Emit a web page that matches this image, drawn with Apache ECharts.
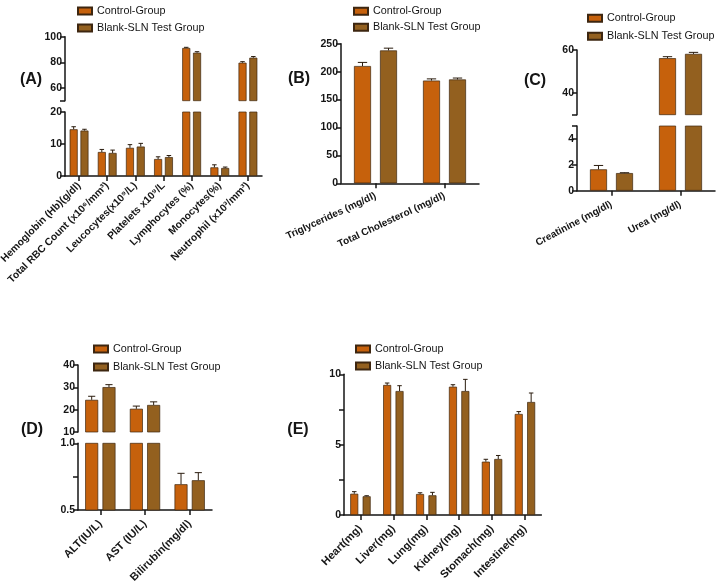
<!DOCTYPE html>
<html><head><meta charset="utf-8">
<script src="https://cdn.jsdelivr.net/npm/echarts@6/dist/echarts.min.js"></script>
<style>html,body{margin:0;padding:0;background:#fff}#c{width:717px;height:586px}</style>
</head><body><div id="c"></div>
<script>
// ---------------- DATA ----------------
const seriesNames = ['Control-Group', 'Blank-SLN Test Group'];

// (A) haematology
const catsA = ['Hemoglobin (Hb)(g/dl)', 'Total RBC Count (x10\u2076/mm\u00B3)', 'Leucocytes(x10\u2079/L)', 'Platelets x10\u2079/L', 'Lymphocytes (%)', 'Monocytes(%)', 'Neutrophil (x10\u00B3/mm\u00B3)'];
const controlA = [14.6, 7.5, 8.8, 5.3, 91.2, 2.7, 79.7];
const controlAErr = [0.8, 0.8, 1.0, 0.7, 0.5, 0.8, 0.8];
const testA = [14.2, 7.2, 9.2, 5.9, 87.5, 2.5, 83.6];
const testAErr = [0.4, 0.9, 1.0, 0.5, 0.8, 0.3, 0.9];
const aUpperTicks = [50, 60, 80, 100];
const aUpperLabels = [60, 80, 100];
const aLowerTicks = [0, 10, 20];
const aLowerLabels = [0, 10, 20];

// (B) lipids
const catsB = ['Triglycerides (mg/dl)', 'Total Cholesterol (mg/dl)'];
const controlB = [210, 184];
const controlBErr = [6.5, 3];
const testB = [238, 186];
const testBErr = [4, 2.5];
const bTicks = [0, 50, 100, 150, 200, 250];

// (C) kidney
const catsC = ['Creatinine (mg/dl)', 'Urea (mg/dl)'];
const controlC = [1.65, 56.2];
const controlCErr = [0.3, 0.7];
const testC = [1.36, 58.2];
const testCErr = [0.03, 0.7];
const cUpperTicks = [30, 40, 60];
const cUpperLabels = [40, 60];
const cLowerTicks = [0, 2, 4, 5];
const cLowerLabels = [0, 2, 4];

// (D) liver
const catsD = ['ALT(IU/L)', 'AST (IU/L)', 'Bilirubin(mg/dl)'];
const controlD = [24.4, 20.4, 0.693];
const controlDErr = [1.6, 1.2, 0.082];
const testD = [30.1, 22.1, 0.723];
const testDErr = [1.1, 1.4, 0.057];
const dUpperTicks = [10, 20, 30, 40];
const dUpperLabels = [10, 20, 30, 40];
const dLowerTicks = [0.5, 0.75, 1.0];
const dLowerLabels = [0.5, 1.0];

// (E) organ weights
const catsE = ['Heart(mg)', 'Liver(mg)', 'Lung(mg)', 'Kidney(mg)', 'Stomach(mg)', 'Intestine(mg)'];
const controlE = [1.51, 9.24, 1.49, 9.12, 3.79, 7.18];
const controlEErr = [0.15, 0.14, 0.09, 0.14, 0.17, 0.17];
const testE = [1.33, 8.81, 1.40, 8.81, 3.98, 8.03];
const testEErr = [0.04, 0.38, 0.21, 0.83, 0.25, 0.64];
const eTicks = [0, 2.5, 5, 7.5, 10];
const eLabels = [0, 5, 10];

// ---------------- LAYOUT / STYLE ----------------
const FONT = 'Liberation Sans, Arial, sans-serif';
const INK = '#151515';
const colors = ['#C6610C', '#93601F'];
const edge = '#3d2610';

const panels = [
  { tag: '(A)', tagX: 31, tagY: 80, cats: catsA, vals: [controlA, testA], errs: [controlAErr, testAErr],
    left: 65, width: 197, barW: 8, gap: 0.35, rotate: 45, xFont: 10.3, xMargin: 8,
    legend: { left: 77, top: 5.5, gap: 6 },
    segs: [ { top: 36.7, height: 64, min: 50, max: 100, ticks: aUpperTicks, labels: aUpperLabels },
            { top: 112, height: 64, min: 0, max: 20, ticks: aLowerTicks, labels: aLowerLabels } ] },
  { tag: '(B)', tagX: 299, tagY: 79, cats: catsB, vals: [controlB, testB], errs: [controlBErr, testBErr],
    left: 341, width: 138, barW: 17, gap: 0.53, rotate: 25, xFont: 10, xMargin: 12,
    legend: { left: 353, top: 5.8, gap: 5 },
    segs: [ { top: 43.7, height: 139.6, min: 0, max: 250, ticks: bTicks, labels: bTicks } ] },
  { tag: '(C)', tagX: 535, tagY: 81, cats: catsC, vals: [controlC, testC], errs: [controlCErr, testCErr],
    left: 577, width: 138, barW: 17, gap: 0.53, rotate: 28, xFont: 10, xMargin: 13,
    legend: { left: 587, top: 12.8, gap: 7 },
    segs: [ { top: 50, height: 64.7, min: 30, max: 60, ticks: cUpperTicks, labels: cUpperLabels },
            { top: 126, height: 64.7, min: 0, max: 5, ticks: cLowerTicks, labels: cLowerLabels } ] },
  { tag: '(D)', tagX: 32, tagY: 430, cats: catsD, vals: [controlD, testD], errs: [controlDErr, testDErr],
    left: 78, width: 134, barW: 13, gap: 0.33, rotate: 45, xFont: 11, xMargin: 12,
    legend: { left: 93, top: 343.5, gap: 7 },
    segs: [ { top: 365, height: 67, min: 10, max: 40, ticks: dUpperTicks, labels: dUpperLabels },
            { top: 443.3, height: 66.7, min: 0.5, max: 1.0, ticks: dLowerTicks, labels: dLowerLabels, dec: 1 } ] },
  { tag: '(E)', tagX: 298, tagY: 430, cats: catsE, vals: [controlE, testE], errs: [controlEErr, testEErr],
    left: 344, width: 197.4, barW: 8, gap: 0.55, rotate: 45, xFont: 11, xMargin: 12,
    legend: { left: 355, top: 343.5, gap: 6 },
    segs: [ { top: 374.3, height: 140.7, min: 0, max: 10, ticks: eTicks, labels: eLabels } ] }
];

const grid = [], xAxis = [], yAxis = [], series = [], legend = [], graphic = [];

panels.forEach(p => {
  graphic.push({ type: 'text', x: p.tagX, y: p.tagY,
    style: { text: p.tag, font: 'bold 16px ' + FONT, fill: INK, align: 'center', verticalAlign: 'middle' } });
  legend.push({ data: seriesNames, orient: 'vertical', left: p.legend.left, top: p.legend.top, padding: 0,
    itemGap: p.legend.gap, itemWidth: 14, itemHeight: 7, icon: 'rect',
    textStyle: { fontSize: 10.8, color: INK, fontFamily: FONT } });
  p.segs.forEach((s, si) => {
    const gi = grid.length;
    const last = si === p.segs.length - 1;
    grid.push({ left: p.left, top: s.top, width: p.width, height: s.height, containLabel: false, outerBoundsMode: 'none' });
    xAxis.push({ gridIndex: gi, type: 'category', data: p.cats,
      axisLine: { show: last, lineStyle: { color: INK, width: 1.5 } },
      axisTick: { show: last, alignWithLabel: true, length: 5, lineStyle: { color: INK, width: 1.5 } },
      axisLabel: { show: last, interval: 0, rotate: p.rotate, fontSize: p.xFont, fontWeight: 'bold', color: INK, fontFamily: FONT, margin: p.xMargin },
      splitLine: { show: false } });
    yAxis.push({ gridIndex: gi, type: 'value', min: s.min, max: s.max,
      axisLine: { show: true, lineStyle: { color: INK, width: 1.5 } },
      axisTick: { show: true, length: 5, customValues: s.ticks, lineStyle: { color: INK, width: 1.5 } },
      axisLabel: { customValues: s.labels, fontSize: 10.5, fontWeight: 'bold', color: INK, fontFamily: FONT, margin: 3,
        formatter: v => s.dec ? Number(v).toFixed(s.dec) : String(v) },
      splitLine: { show: false } });
    const off = (p.barW + p.gap * p.barW) / 2;
    [0, 1].forEach(k => {
      series.push({ name: seriesNames[k], type: 'bar', xAxisIndex: gi, yAxisIndex: gi,
        data: p.vals[k], barWidth: p.barW, barGap: (p.gap * 100) + '%', clip: true,
        itemStyle: { color: colors[k], borderColor: edge, borderWidth: 0.7 }, emphasis: { disabled: true } });
    });
    [0, 1].forEach(k => {
      const dx = k === 0 ? -off : off;
      const cap = Math.max(4.5, p.barW * 0.55);
      series.push({ name: 'err' + k, type: 'custom', xAxisIndex: gi, yAxisIndex: gi, clip: true, z: 5,
        encode: { x: 0, y: 1 },
        data: p.vals[k].map((v, i) => [i, v, p.errs[k][i]]),
        renderItem: (params, api) => {
          const x = api.value(0), v = api.value(1), e = api.value(2);
          const a = api.coord([x, v]), b = api.coord([x, v + e]);
          const cx = a[0] + dx;
          return { type: 'group', children: [
            { type: 'line', shape: { x1: cx, y1: a[1], x2: cx, y2: b[1] }, style: { stroke: '#2a1c0e', lineWidth: 1 } },
            { type: 'line', shape: { x1: cx - cap / 2, y1: b[1], x2: cx + cap / 2, y2: b[1] }, style: { stroke: '#2a1c0e', lineWidth: 1 } }
          ] };
        } });
    });
  });
});

const chart = echarts.init(document.getElementById('c'), null, { renderer: 'canvas' });
chart.setOption({
  animation: false,
  backgroundColor: '#fff',
  textStyle: { fontFamily: FONT },
  grid, xAxis, yAxis, series, legend, graphic
});
</script></body></html>
